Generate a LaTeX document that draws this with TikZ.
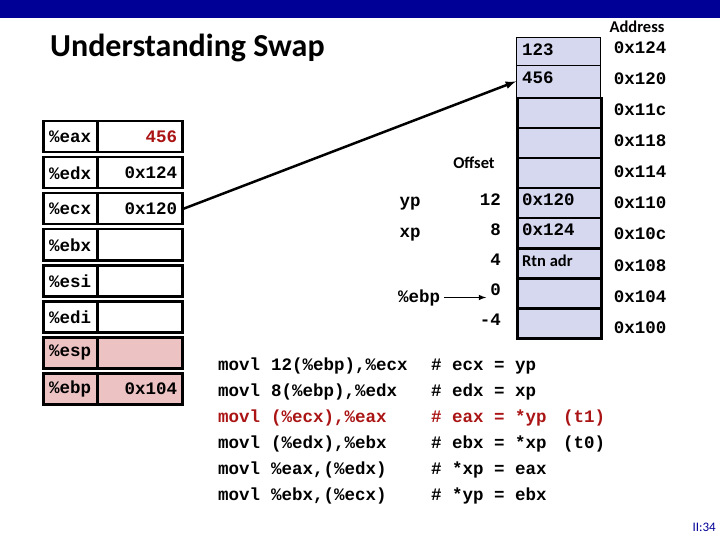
\documentclass[tikz,border=0pt]{standalone}
\usepackage{fontspec}
\setmainfont{Carlito}
\setmonofont{Liberation Mono}
\begin{document}
\begin{tikzpicture}[x=1pt,y=-1pt,
  reg/.style={draw,line width=2.5pt,minimum width=54pt,minimum height=31pt,inner sep=0pt,anchor=north west},
  val/.style={draw,line width=2.5pt,minimum width=85pt,minimum height=31pt,inner sep=0pt,anchor=north west},
  mem/.style={draw,line width=2.5pt,fill=memc,minimum width=84pt,minimum height=30pt,inner sep=0pt,anchor=north west},
  tt/.style={font=\ttfamily\bfseries\fontsize{17.5}{19}\selectfont,inner sep=0pt},
  lab/.style={font=\bfseries\fontsize{16.5}{18}\selectfont,inner sep=0pt}]
\definecolor{memc}{RGB}{214,216,240}
\definecolor{pinkc}{RGB}{236,194,194}
\definecolor{redc}{RGB}{170,20,20}
\definecolor{barc}{RGB}{0,0,150}
\useasboundingbox (0,0) rectangle (720,540);
\fill[barc] (0,0) rectangle (720,18);
\node[anchor=west,font=\bfseries\fontsize{32}{34}\selectfont,inner sep=0pt] (title) at (50,48) {Understanding Swap};
% registers
\foreach \n/\r/\v/\c [count=\i from 0] in {eax/\%eax/{\textcolor{redc}{456}}/white,edx/\%edx/0x124/white,ecx/\%ecx/0x120/white,ebx/\%ebx//white,esi/\%esi//white,edi/\%edi//white,esp/\%esp//pinkc,ebp/\%ebp/0x104/pinkc}{
  \node[reg,fill=\c,tt] (r\n) at (42,120+36*\i) {\r};
  \node[val,fill=\c,tt,text width=75pt,align=right] (v\n) at (96,120+36*\i) {\v};
}
% memory
\node[mem,line width=0.8pt] (m0) at (516,37) {};
\node[mem,line width=0.8pt,minimum height=32pt] (m1) at (516,65) {};
\foreach \i in {2,...,9}{
  \node[mem] (m\i) at (516,37+30*\i) {};
}
\draw[line width=0.8pt] (m0.north west) rectangle (m1.south east);
\foreach \i/\t in {0/123,1/456,5/0x120,6/0x124}{
  \node[tt,anchor=base west] (t\i) at ([xshift=6pt,yshift=-19pt]m\i.north west) {\t};
}
\node[lab,anchor=base west] (t7) at ([xshift=6pt,yshift=-19pt]m7.north west) {Rtn adr};
\node[lab,anchor=base] (addr) at (637,33) {Address};
\foreach \a [count=\i from 0] in {0x124,0x120,0x11c,0x118,0x114,0x110,0x10c,0x108,0x104,0x100}{
  \node[tt,anchor=base] (a\i) at (640,54+31*\i) {\a};
}
\node[lab,anchor=base] (off) at (474,169) {Offset};
\node[tt,anchor=base east] (o12) at (501,206) {12};
\node[tt,anchor=base east] (o8) at (501,236) {8};
\node[tt,anchor=base east] (o4) at (501,265) {4};
\node[tt,anchor=base east] (o0) at (501,295) {0};
\node[tt,anchor=base east] (om4) at (501,325) {-4};
\node[tt,anchor=base] (yp) at (410,207) {yp};
\node[tt,anchor=base] (xp) at (410,237) {xp};
\node[tt,anchor=base] (ebpl) at (419,302) {\%ebp};
\draw[line width=1.5pt,-latex] ([xshift=4pt]ebpl.east) -- ([xshift=-4pt]o0.west |- ebpl.east);
\draw[line width=2.5pt,-latex] (vecx.east) -- (m1.west);
% code
\foreach \a/\b/\d/\e/\c [count=\i from 0] in {{12(\%ebp),\%ecx}/ecx/yp//black,{8(\%ebp),\%edx}/edx/xp//black,{(\%ecx),\%eax}/eax/*yp/(t1)/redc,{(\%edx),\%ebx}/ebx/*xp/(t0)/black,{\%eax,(\%edx)}/*xp/eax//black,{\%ebx,(\%ecx)}/*yp/ebx//black}{
  \begin{scope}[every node/.style={tt,anchor=base west,text=\c}]
  \node (c\i a) at (218,370+26*\i) {movl};
  \node (c\i b) at (271,370+26*\i) {\a};
  \node (c\i h) at (431,370+26*\i) {\#};
  \node (c\i d) at (452,370+26*\i) {\b};
  \node (c\i q) at (494,370+26*\i) {=};
  \node (c\i e) at (515,370+26*\i) {\d};
  \node (c\i f) at (563,370+26*\i) {\e};
  \end{scope}
}
\node[font=\fontsize{13}{14}\selectfont,text=barc,anchor=east,inner sep=0pt] (pg) at (716,527) {II:34};
\end{tikzpicture}
\end{document}
